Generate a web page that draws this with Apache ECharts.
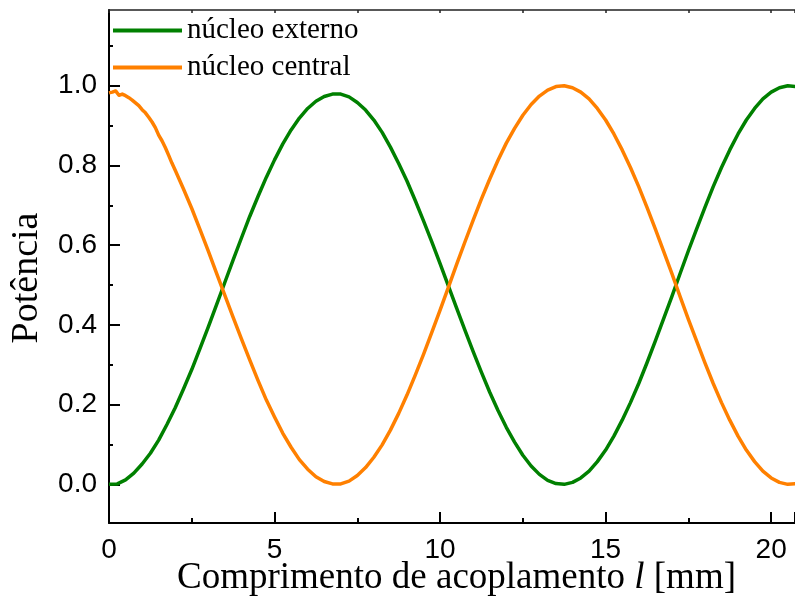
<!DOCTYPE html>
<html>
<head>
<meta charset="utf-8">
<script src="https://cdn.jsdelivr.net/npm/echarts@6/dist/echarts.min.js"></script>
<style>
  html, body { margin: 0; padding: 0; background: #fff; }
  #chart { width: 795px; height: 596px; }
</style>
</head>
<body>
<div id="chart"></div>
<script>
// Coupled power along the coupler: outer core vs. central core
const seriesNames = ['núcleo externo', 'núcleo central'];

// Sampling grids along the coupling length (mm)
const stepGrid = (start, end, step) => {
  const out = [];
  for (let k = 0; start + k * step <= end + 1e-9; k++) out.push(+(start + k * step).toFixed(2));
  return out;
};
const externoX = stepGrid(0, 20.75, 0.25);
const centralX = stepGrid(0, 2.0, 0.1).concat(stepGrid(2.25, 20.75, 0.25));

// Outer core, normalised power
const externoY = [
  0.000, 0.001, 0.011, 0.028, 0.051, 0.078, 0.111, 0.150, 0.192, 0.239, 0.288, 0.341,
  0.395, 0.451, 0.507, 0.563, 0.618, 0.672, 0.722, 0.770, 0.814, 0.854, 0.889, 0.919,
  0.943, 0.961, 0.973, 0.979, 0.979, 0.972, 0.958, 0.939, 0.914, 0.883, 0.846, 0.805,
  0.761, 0.712, 0.661, 0.608, 0.554, 0.498, 0.442, 0.387, 0.333, 0.281, 0.231, 0.185,
  0.143, 0.106, 0.073, 0.046, 0.025, 0.010, 0.002, 0.000, 0.005, 0.016, 0.033, 0.057,
  0.086, 0.121, 0.161, 0.205, 0.253, 0.305, 0.359, 0.415, 0.471, 0.529, 0.586, 0.641,
  0.695, 0.747, 0.795, 0.839, 0.879, 0.914, 0.943, 0.967, 0.984, 0.995, 1.000, 0.998
];

// Central core, normalised power (noisy near the input end)
const centralY = [
  0.982, 0.984, 0.987, 0.976, 0.979, 0.975, 0.970, 0.964, 0.957, 0.950, 0.940,
  0.932, 0.921, 0.909, 0.895, 0.876, 0.862, 0.845, 0.826, 0.806, 0.788,
  0.741, 0.692, 0.639, 0.585, 0.529, 0.474, 0.419, 0.365, 0.312, 0.261, 0.212, 0.169,
  0.128, 0.093, 0.062, 0.038, 0.019, 0.007, 0.001, 0.001, 0.008, 0.022, 0.042, 0.068,
  0.099, 0.136, 0.178, 0.224, 0.274, 0.326, 0.381, 0.437, 0.494, 0.552, 0.608, 0.663,
  0.716, 0.766, 0.813, 0.856, 0.893, 0.926, 0.953, 0.974, 0.989, 0.998, 1.000, 0.995,
  0.984, 0.967, 0.943, 0.914, 0.879, 0.839, 0.795, 0.747, 0.695, 0.641, 0.585, 0.529,
  0.471, 0.414, 0.359, 0.305, 0.253, 0.205, 0.161, 0.121, 0.086, 0.057, 0.033, 0.016,
  0.005, 0.000, 0.002
];

const yMajorTicks = [0, 0.2, 0.4, 0.6, 0.8, 1.0];
const yMinorTicks = [0.1, 0.3, 0.5, 0.7, 0.9, 1.1];

const pairs = (xs, ys) => ys.map((y, i) => [xs[i], y]);

const sansFont = '"Liberation Sans", Arial, sans-serif';
const serifFont = '"Liberation Serif", "Times New Roman", serif';

const chart = echarts.init(document.getElementById('chart'), null, { renderer: 'canvas' });
chart.setOption({
  animation: false,
  backgroundColor: '#ffffff',
  grid: { left: 109, right: 0, top: 10, bottom: 73, containLabel: false, outerBoundsMode: 'none' },
  legend: {
    orient: 'vertical',
    left: 108,
    top: 11,
    icon: 'rect',
    itemWidth: 69,
    itemHeight: 4,
    itemGap: 8,
    textStyle: { fontFamily: serifFont, fontSize: 29, color: '#000', lineHeight: 29 },
    data: seriesNames
  },
  xAxis: [{
    type: 'value',
    min: 0,
    max: 20.72,
    interval: 5,
    position: 'bottom',
    axisLine: { show: true, onZero: false, lineStyle: { color: '#000', width: 2 } },
    axisTick: { show: true, inside: true, length: 11, lineStyle: { color: '#000', width: 2 } },
    minorTick: { show: true, splitNumber: 2, length: 5, lineStyle: { color: '#000', width: 2 } },
    axisLabel: { fontFamily: sansFont, fontSize: 28, color: '#000', margin: 13, showMaxLabel: false },
    splitLine: { show: false },
    name: '{n|Comprimento de acoplamento }{i|l}{n| [mm]}',
    nameLocation: 'middle',
    nameGap: 37,
    nameMoveOverlap: false,
    nameTextStyle: {
      padding: [0, 0, 0, 9],
      rich: {
        n: { fontFamily: serifFont, fontSize: 37, color: '#000' },
        i: { fontFamily: serifFont, fontSize: 37, fontStyle: 'italic', color: '#000' }
      }
    }
  }, {
    type: 'value',
    min: 0,
    max: 20.72,
    interval: 2.5,
    position: 'top',
    axisLine: { show: true, onZero: false, lineStyle: { color: '#222', width: 1.5 } },
    axisTick: { show: true, inside: true, length: 3, lineStyle: { color: '#222', width: 1.5 } },
    axisLabel: { show: false },
    splitLine: { show: false }
  }],
  yAxis: [{
    type: 'value',
    min: -0.097,
    max: 1.19,
    position: 'left',
    axisLine: { show: true, onZero: false, lineStyle: { color: '#000', width: 2 } },
    axisTick: { show: true, inside: true, length: 11, customValues: yMajorTicks, lineStyle: { color: '#000', width: 2 } },
    axisLabel: {
      fontFamily: sansFont, fontSize: 28, color: '#000', margin: 12,
      customValues: yMajorTicks,
      formatter: v => v.toFixed(1)
    },
    splitLine: { show: false },
    name: 'Potência',
    nameLocation: 'middle',
    nameGap: 63,
    nameMoveOverlap: false,
    nameTextStyle: { fontFamily: serifFont, fontSize: 38, color: '#000', padding: [0, 23, 0, 0] }
  }, {
    type: 'value',
    min: -0.097,
    max: 1.19,
    position: 'left',
    axisLine: { show: false },
    axisTick: { show: true, inside: true, length: 4, customValues: yMinorTicks, lineStyle: { color: '#000', width: 2 } },
    axisLabel: { show: false },
    splitLine: { show: false }
  }],
  series: [{
    name: seriesNames[0],
    type: 'line',
    data: pairs(externoX, externoY),
    showSymbol: false,
    smooth: false,
    color: '#008000',
    lineStyle: { color: '#008000', width: 3.5, join: 'round' }
  }, {
    name: seriesNames[1],
    type: 'line',
    data: pairs(centralX, centralY),
    showSymbol: false,
    smooth: false,
    color: '#ff8000',
    lineStyle: { color: '#ff8000', width: 3.5, join: 'round' }
  }]
});
</script>
</body>
</html>
